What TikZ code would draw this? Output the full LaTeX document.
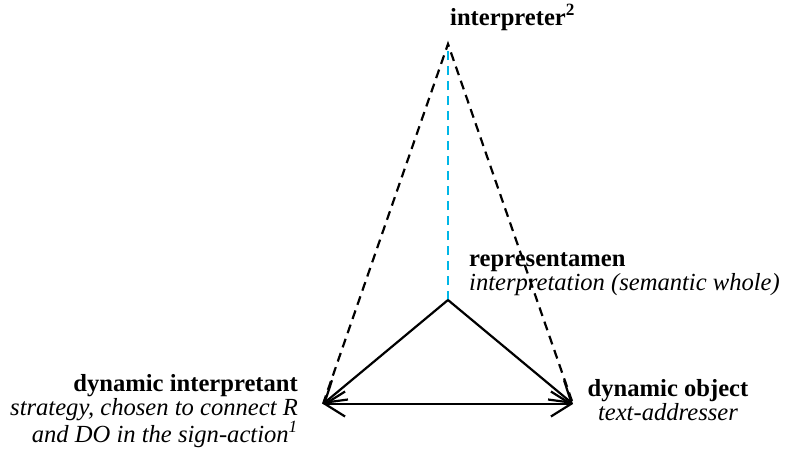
\documentclass[tikz,border=0pt]{standalone}
\usepackage{fontspec}
\setmainfont{Liberation Serif}
\usetikzlibrary{arrows.meta}
\definecolor{cyanline}{RGB}{0,182,230}
\tikzset{
  lbl/.style={inner sep=0pt, font=\fontsize{24.6}{22}\selectfont},
  barb/.tip={Straight Barb[length=20pt,width=25pt,line width=2.2pt]},
  solidarr/.style={line width=2.2pt, -barb},
  dashedline/.style={line width=2.2pt, dash pattern=on 9pt off 6pt},
  cyandash/.style={line width=2.2pt, cyanline, dash pattern=on 9pt off 6pt}
}
\begin{document}
\begin{tikzpicture}[x=1pt,y=-1pt]
\useasboundingbox (0,0) rectangle (785,459);
\coordinate (T) at (448,44);
\coordinate (R) at (448,300);
\coordinate (DI) at (323,404);
\coordinate (DO) at (573,404);
% dashed lines
\draw[cyandash] (R) -- (T);
\draw[dashedline] (DI) -- (T) -- (DO);
% solid arrows
\draw[solidarr] (R) -- (DI);
\draw[solidarr] (R) -- (DO);
\draw[solidarr, barb-barb] (DI) -- (DO);
% labels
\node[lbl, anchor=base west] (lT) at (450,25) {\textbf{interpreter\textsuperscript{2}}};
\node[lbl, anchor=base west, align=left] (lR) at (469,290) {\textbf{representamen}\\\textit{interpretation (semantic whole)}};
\node[lbl, anchor=base east, align=right] (lDI) at (298,442) {\textbf{dynamic interpretant}\\\textit{strategy, chosen to connect R}\\\textit{and DO in the sign-action\textsuperscript{1}}};
\node[lbl, anchor=base, align=center] (lDO) at (668,420) {\textbf{dynamic object}\\\textit{text-addresser}};
\end{tikzpicture}
\end{document}
